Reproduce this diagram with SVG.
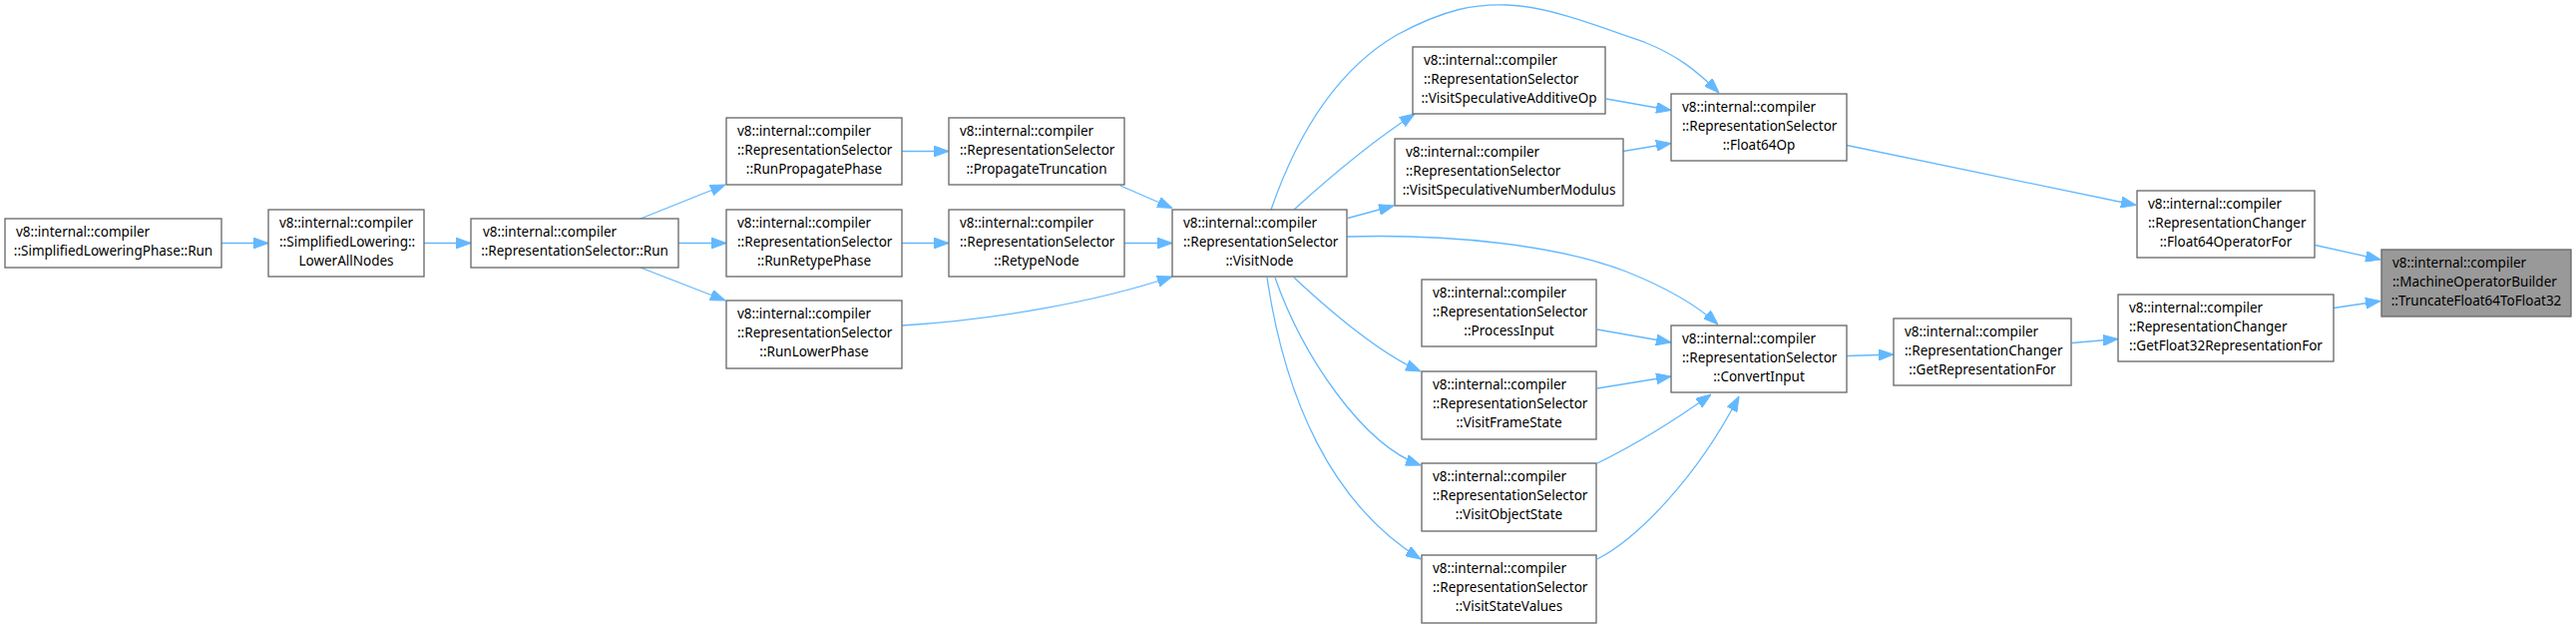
<svg xmlns="http://www.w3.org/2000/svg" width="2582" height="629" viewBox="0 0 2582 629">
<style>
.n rect{fill:#fff;stroke:#666;stroke-width:1.3}
.h rect{fill:#999}
.n text{font-family:"Noto Sans","DejaVu Sans",sans-serif;font-size:13.5px;fill:#000}
.c{text-anchor:middle}
.e path{fill:none;stroke:#63b8ff;stroke-width:1.3;marker-end:url(#a)}
</style>
<defs>
<marker id="a" viewBox="0 0 15 11" refX="15" refY="5.5" markerWidth="15" markerHeight="11" markerUnits="userSpaceOnUse" orient="auto">
<path d="M0,0 L15,5.5 L0,11 z" fill="#63b8ff" stroke="#63b8ff" stroke-width="1"/>
</marker>
</defs>
<g id="edges" class="e">
<path d="M222,243.5 L269,243.5"/>
<path d="M425,243.5 L472,243.5"/>
<path d="M642,219 L727,185"/>
<path d="M680,243.5 L728,243.5"/>
<path d="M642,268 L727,301"/>
<path d="M904,151.5 L951,151.5"/>
<path d="M904,243.5 L951,243.5"/>
<path d="M1123,186 L1175,208.5"/>
<path d="M1127,243.5 L1175,243.5"/>
<path d="M904,326 C1000,320 1100,302 1175,277"/>
<path d="M1274,210 C1300,135 1340,70 1400,35 C1450,8 1480,4 1510,5 C1550,6 1600,25 1650,43 C1680,55 1700,70 1723,93"/>
<path d="M1297,210 C1330,180 1370,145 1418,114"/>
<path d="M1351,218.5 L1397,206"/>
<path d="M1350,237 C1450,234 1560,245 1630,272 C1670,288 1700,305 1722,325"/>
<path d="M1297,278 C1340,318 1385,355 1424,372"/>
<path d="M1278,278 C1305,355 1365,445 1424,466"/>
<path d="M1270,278 C1288,400 1335,505 1424,560"/>
<path d="M1610,99 L1675,110.5"/>
<path d="M1627,151.5 L1675,143.5"/>
<path d="M1601,330 L1675,343"/>
<path d="M1601,389 L1675,377"/>
<path d="M1601,464 C1640,445 1680,420 1715,395"/>
<path d="M1601,560 C1640,540 1700,480 1743,397"/>
<path d="M1851,356.5 L1898,355"/>
<path d="M2077,343.5 L2123,339.5"/>
<path d="M1851,145.5 L2141,205.5"/>
<path d="M2320.5,245.5 L2386,260"/>
<path d="M2339,308.5 L2386,301.5"/>
</g>
<g id="n1" class="n"><rect x="5" y="219" width="217" height="49"/><text x="16" y="237.3">v8::internal::compiler</text><text x="113.5" y="256" class="c">::SimplifiedLoweringPhase::Run</text></g>
<g id="n2" class="n"><rect x="269" y="210" width="156" height="67"/><text x="280" y="227.8">v8::internal::compiler</text><text x="280" y="246.8">::SimplifiedLowering::</text><text x="347" y="265.8" class="c">LowerAllNodes</text></g>
<g id="n3" class="n"><rect x="472" y="219" width="208" height="49"/><text x="484" y="237.3">v8::internal::compiler</text><text x="576" y="256" class="c">::RepresentationSelector::Run</text></g>
<g id="n4" class="n"><rect x="728" y="118" width="176" height="67"/><text x="739" y="135.8">v8::internal::compiler</text><text x="739" y="154.8">::RepresentationSelector</text><text x="816" y="173.8" class="c">::RunPropagatePhase</text></g>
<g id="n5" class="n"><rect x="728" y="210" width="176" height="67"/><text x="739" y="227.8">v8::internal::compiler</text><text x="739" y="246.8">::RepresentationSelector</text><text x="816" y="265.8" class="c">::RunRetypePhase</text></g>
<g id="n6" class="n"><rect x="728" y="301" width="176" height="68"/><text x="739" y="318.8">v8::internal::compiler</text><text x="739" y="337.8">::RepresentationSelector</text><text x="816" y="356.8" class="c">::RunLowerPhase</text></g>
<g id="n7" class="n"><rect x="951" y="118" width="176" height="67"/><text x="962" y="135.8">v8::internal::compiler</text><text x="962" y="154.8">::RepresentationSelector</text><text x="1039" y="173.8" class="c">::PropagateTruncation</text></g>
<g id="n8" class="n"><rect x="951" y="210" width="176" height="67"/><text x="962" y="227.8">v8::internal::compiler</text><text x="962" y="246.8">::RepresentationSelector</text><text x="1039" y="265.8" class="c">::RetypeNode</text></g>
<g id="n9" class="n"><rect x="1175" y="210" width="175" height="67"/><text x="1186" y="227.8">v8::internal::compiler</text><text x="1186" y="246.8">::RepresentationSelector</text><text x="1262.5" y="265.8" class="c">::VisitNode</text></g>
<g id="n10" class="n"><rect x="1416" y="47" width="193" height="67"/><text x="1427" y="64.8">v8::internal::compiler</text><text x="1427" y="83.8">::RepresentationSelector</text><text x="1512.5" y="102.8" class="c">::VisitSpeculativeAdditiveOp</text></g>
<g id="n11" class="n"><rect x="1398" y="139" width="229" height="67"/><text x="1409" y="156.8">v8::internal::compiler</text><text x="1409" y="175.8">::RepresentationSelector</text><text x="1512.5" y="194.8" class="c">::VisitSpeculativeNumberModulus</text></g>
<g id="n12" class="n"><rect x="1425" y="280" width="175" height="67"/><text x="1436" y="297.8">v8::internal::compiler</text><text x="1436" y="316.8">::RepresentationSelector</text><text x="1512.5" y="335.8" class="c">::ProcessInput</text></g>
<g id="n13" class="n"><rect x="1425" y="372" width="175" height="68"/><text x="1436" y="389.8">v8::internal::compiler</text><text x="1436" y="408.8">::RepresentationSelector</text><text x="1512.5" y="427.8" class="c">::VisitFrameState</text></g>
<g id="n14" class="n"><rect x="1425" y="464" width="175" height="68"/><text x="1436" y="481.8">v8::internal::compiler</text><text x="1436" y="500.8">::RepresentationSelector</text><text x="1512.5" y="519.8" class="c">::VisitObjectState</text></g>
<g id="n15" class="n"><rect x="1425" y="556" width="175" height="68"/><text x="1436" y="573.8">v8::internal::compiler</text><text x="1436" y="592.8">::RepresentationSelector</text><text x="1512.5" y="611.8" class="c">::VisitStateValues</text></g>
<g id="n16" class="n"><rect x="1675" y="94" width="176" height="67"/><text x="1686" y="111.8">v8::internal::compiler</text><text x="1686" y="130.8">::RepresentationSelector</text><text x="1763" y="149.8" class="c">::Float64Op</text></g>
<g id="n17" class="n"><rect x="1675" y="326" width="176" height="67"/><text x="1686" y="343.8">v8::internal::compiler</text><text x="1686" y="362.8">::RepresentationSelector</text><text x="1763" y="381.8" class="c">::ConvertInput</text></g>
<g id="n18" class="n"><rect x="1898" y="319" width="178" height="67"/><text x="1909" y="336.8">v8::internal::compiler</text><text x="1909" y="355.8">::RepresentationChanger</text><text x="1987" y="374.8" class="c">::GetRepresentationFor</text></g>
<g id="n19" class="n"><rect x="2123" y="295" width="216" height="67"/><text x="2134" y="312.8">v8::internal::compiler</text><text x="2134" y="331.8">::RepresentationChanger</text><text x="2231" y="350.8" class="c">::GetFloat32RepresentationFor</text></g>
<g id="n20" class="n"><rect x="2142" y="191" width="178" height="67"/><text x="2153" y="208.8">v8::internal::compiler</text><text x="2153" y="227.8">::RepresentationChanger</text><text x="2231" y="246.8" class="c">::Float64OperatorFor</text></g>
<g id="n21" class="n h"><rect x="2387" y="250" width="190" height="67"/><text x="2398" y="267.8">v8::internal::compiler</text><text x="2398" y="286.8">::MachineOperatorBuilder</text><text x="2482" y="305.8" class="c">::TruncateFloat64ToFloat32</text></g>
</svg>
